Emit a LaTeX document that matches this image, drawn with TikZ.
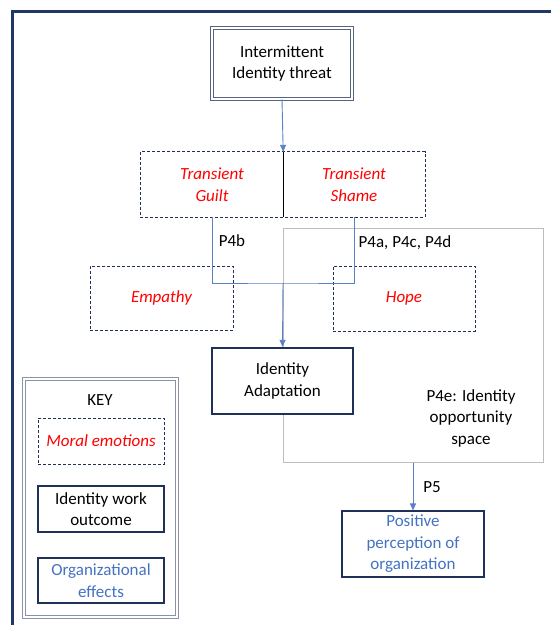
\documentclass[tikz,border=0pt]{standalone}
\usepackage{fontspec}
\setmainfont{Carlito}
\usetikzlibrary{arrows.meta}
\definecolor{navy}{HTML}{1F3158}
\definecolor{framecol}{HTML}{1F3864}
\definecolor{emored}{HTML}{FF0000}
\definecolor{orgblue}{HTML}{4472C4}
\definecolor{linkblue}{HTML}{5B7FC9}
\definecolor{spacegray}{HTML}{BDBDBD}
\definecolor{dbl}{HTML}{55657F}
\tikzset{
  base/.style={font=\fontsize{17}{21.5}\selectfont, align=center, inner sep=0pt},
  dblbox/.style={base, draw=dbl, double=white, double distance=2pt, line width=0.8pt},
  emobox/.style={base, draw=navy, line width=0.9pt, dash pattern=on 3pt off 2pt},
  emotext/.style={base, text=emored, font=\fontsize{17}{21.5}\selectfont\itshape},
  workbox/.style={base, draw=navy, line width=2.4pt, fill=white},
  orgbox/.style={base, draw=navy, line width=1.1pt, text=orgblue},
  link/.style={draw=linkblue, line width=0.9pt},
  linkarrow/.style={link, -{Triangle[length=7pt,width=6pt]}},
}
\begin{document}
\begin{tikzpicture}[x=1pt,y=-1pt]
\useasboundingbox (0,0) rectangle (551,625);

% outer frame
\draw[framecol, line width=3pt] (12,640) -- (12,11) -- (560,11);

% identity opportunity space
\node[base, draw=spacegray, line width=1pt, minimum width=260pt, minimum height=234pt] (space) at (413,345) {};
\node[base] (spacelbl) at (471,418) {P4e: Identity\\opportunity\\space};

% threat
\node[dblbox, minimum width=140pt, minimum height=71pt] (threat) at (282,63.5) {Intermittent\\Identity threat};

% transient emotions
\node[emotext, minimum width=142pt, minimum height=65pt] (guilt) at (212,184.5) {Transient\\Guilt};
\node[emotext, minimum width=142pt, minimum height=65pt] (shame) at (354,184.5) {Transient\\Shame};
\draw[navy, line width=0.9pt, dash pattern=on 3pt off 2pt] (guilt.north west) rectangle (shame.south east);
\draw[black, line width=1pt] (guilt.north east) -- (guilt.south east);

% empathy and hope
\node[emobox, emotext, minimum width=143pt, minimum height=64pt] (empathy) at (161.5,298) {Empathy};
\node[emobox, emotext, minimum width=142pt, minimum height=65pt] (hope) at (404,298.5) {Hope};

% identity adaptation
\node[workbox, minimum width=141pt, minimum height=66pt] (adapt) at (282.5,381) {Identity\\Adaptation};

% positive perception
\node[orgbox, minimum width=142pt, minimum height=66pt] (positive) at (413,544) {Positive\\perception of\\organization};

% connectors
\draw[linkarrow] (threat.south) -- (guilt.north east);
\coordinate (join) at (283,283);
\draw[link] (guilt.south) |- (join) -| (shame.south);
\draw[linkarrow] (join) -- (adapt.north);
\draw[linkarrow] (space.south) -- (positive.north);

% proposition labels
\node[base] (p4b) at (232,241) {P4b};
\node[base] (p4acd) at (405,243) {P4a, P4c, P4d};
\node[base] (p5) at (432,487) {P5};

% key
\node[base, draw=dbl!70, double=white, double distance=2pt, line width=0.8pt, minimum width=153pt, minimum height=238pt] (key) at (100.5,498) {};
\node[base] (keytitle) at (100,400) {KEY};
\node[emobox, emotext, minimum width=126pt, minimum height=46pt] (kmoral) at (101,441) {Moral emotions};
\node[workbox, minimum width=126pt, minimum height=46pt] (kwork) at (101,509) {Identity work\\outcome};
\node[orgbox, minimum width=126pt, minimum height=45pt] (korg) at (101,580.5) {Organizational\\effects};
\end{tikzpicture}
\end{document}
